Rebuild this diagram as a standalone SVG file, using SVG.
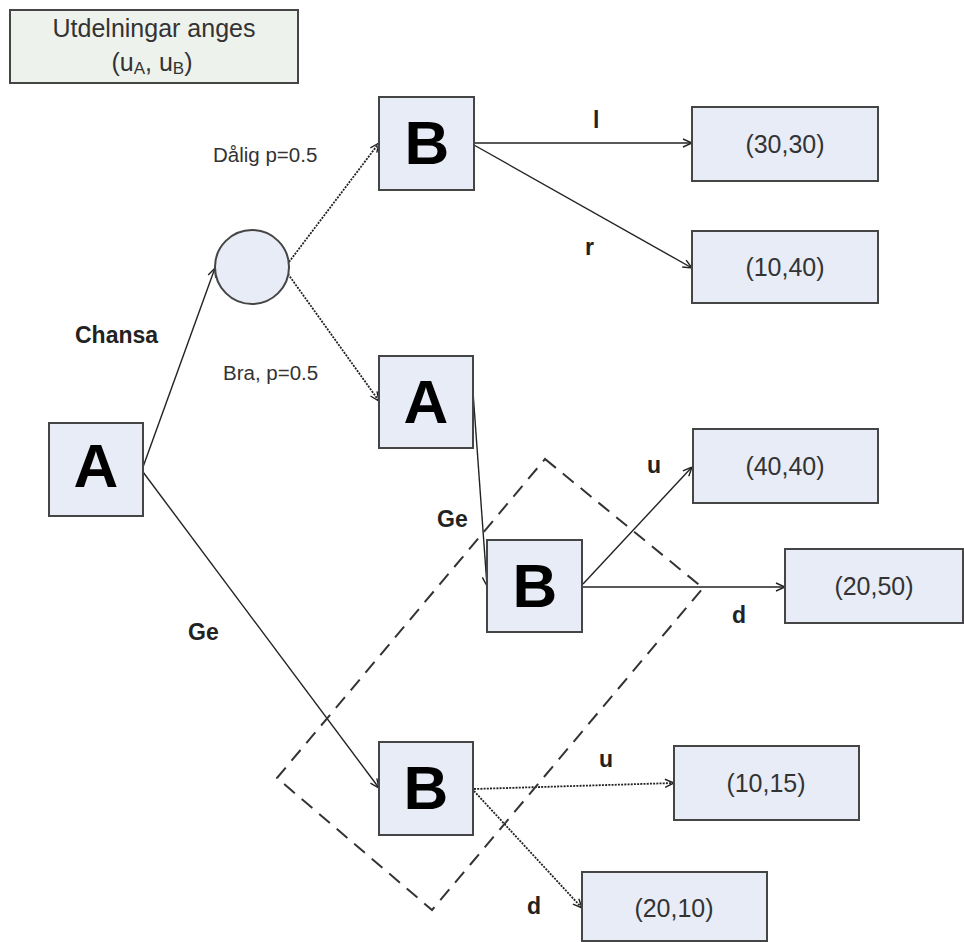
<svg xmlns="http://www.w3.org/2000/svg" width="964" height="942" viewBox="0 0 964 942">
<defs>
<style>
.node{fill:#e8ecf6;stroke:#454545;stroke-width:2}
.legend{fill:#eef2ec;stroke:#454545;stroke-width:2}
.big{font-family:"Liberation Sans",Arial,sans-serif;font-weight:bold;font-size:62px;fill:#000;text-anchor:middle}
.out{font-family:"Liberation Sans",Arial,sans-serif;font-size:25px;fill:#333;text-anchor:middle}
.lbl{font-family:"Liberation Sans",Arial,sans-serif;font-weight:bold;font-size:23px;fill:#222}
.prob{font-family:"Liberation Sans",Arial,sans-serif;font-size:20.5px;fill:#333}
.edge{fill:none;stroke:#222;stroke-width:1.4;marker-end:url(#arr)}
.dot{stroke-dasharray:2,1.2;stroke-width:1.8}
.frame{fill:none;stroke:#333;stroke-width:2;stroke-dasharray:14,9}
</style>
<marker id="arr" viewBox="0 0 10 10" refX="10" refY="5" markerWidth="10" markerHeight="10" markerUnits="userSpaceOnUse" orient="auto">
<path d="M1,1 L10,5 L1,9" fill="none" stroke="#222" stroke-width="1.4"/>
</marker>
</defs>

<g id="legend">
<rect class="legend" x="10" y="10" width="288" height="73"/>
<text class="out" x="154" y="37">Utdelningar anges</text>
<text class="out" x="152" y="71">(u<tspan font-size="17" dy="3">A</tspan><tspan dy="-3">, u</tspan><tspan font-size="17" dy="3">B</tspan><tspan dy="-3">)</tspan></text>
</g>

<g id="connectors">
<path class="edge" d="M143,467 L215,268"/>
<path class="edge dot" d="M289,262 L379,143"/>
<path class="edge dot" d="M288,274 L379,401"/>
<path class="edge" d="M474,143 L692,143"/>
<path class="edge" d="M474,145 L692,268"/>
<path class="edge" d="M472,378 L487,586"/>
<path class="edge" d="M583,584 L692,467"/>
<path class="edge" d="M582,587 L785,587"/>
<path class="edge" d="M143,472 L379,788"/>
<path class="edge dot" d="M474,789 L674,783"/>
<path class="edge dot" d="M474,791 L582,908"/>
</g>

<g id="frame">
<path class="frame" d="M545,459 L703,588 L432,910 L277,778 Z"/>
</g>

<g id="labels">
<text class="prob" x="213" y="162">Dålig p=0.5</text>
<text class="prob" x="223" y="380">Bra, p=0.5</text>
<text class="lbl" x="75" y="343">Chansa</text>
<text class="lbl" x="593" y="128">l</text>
<text class="lbl" x="585" y="255">r</text>
<text class="lbl" x="437" y="527">Ge</text>
<text class="lbl" x="647" y="473">u</text>
<text class="lbl" x="732" y="623">d</text>
<text class="lbl" x="188" y="640">Ge</text>
<text class="lbl" x="599" y="767">u</text>
<text class="lbl" x="527" y="914">d</text>
</g>

<g id="nodeA0">
<rect class="node" x="49" y="423" width="94" height="93"/>
<text class="big" x="96" y="487">A</text>
</g>
<g id="chance">
<circle class="node" cx="252" cy="267" r="37" stroke-width="1.6"/>
</g>
<g id="nodeB1">
<rect class="node" x="379" y="97" width="95" height="93"/>
<text class="big" x="427" y="164">B</text>
</g>
<g id="nodeA1">
<rect class="node" x="379" y="356" width="94" height="92"/>
<text class="big" x="426" y="423">A</text>
</g>
<g id="nodeB2">
<rect class="node" x="487" y="540" width="95" height="92"/>
<text class="big" x="535" y="607">B</text>
</g>
<g id="nodeB3">
<rect class="node" x="379" y="742" width="94" height="93"/>
<text class="big" x="426" y="809">B</text>
</g>

<g id="o3030">
<rect class="node" x="692" y="107" width="186" height="74"/>
<text class="out" x="785" y="153">(30,30)</text>
</g>
<g id="o1040">
<rect class="node" x="692" y="231" width="186" height="72"/>
<text class="out" x="785" y="276">(10,40)</text>
</g>
<g id="o4040">
<rect class="node" x="693" y="429" width="185" height="74"/>
<text class="out" x="785" y="475">(40,40)</text>
</g>
<g id="o2050">
<rect class="node" x="785" y="549" width="178" height="74"/>
<text class="out" x="874" y="595">(20,50)</text>
</g>
<g id="o1015">
<rect class="node" x="674" y="746" width="185" height="74"/>
<text class="out" x="766" y="792">(10,15)</text>
</g>
<g id="o2010">
<rect class="node" x="582" y="872" width="185" height="69"/>
<text class="out" x="674" y="917">(20,10)</text>
</g>
</svg>
